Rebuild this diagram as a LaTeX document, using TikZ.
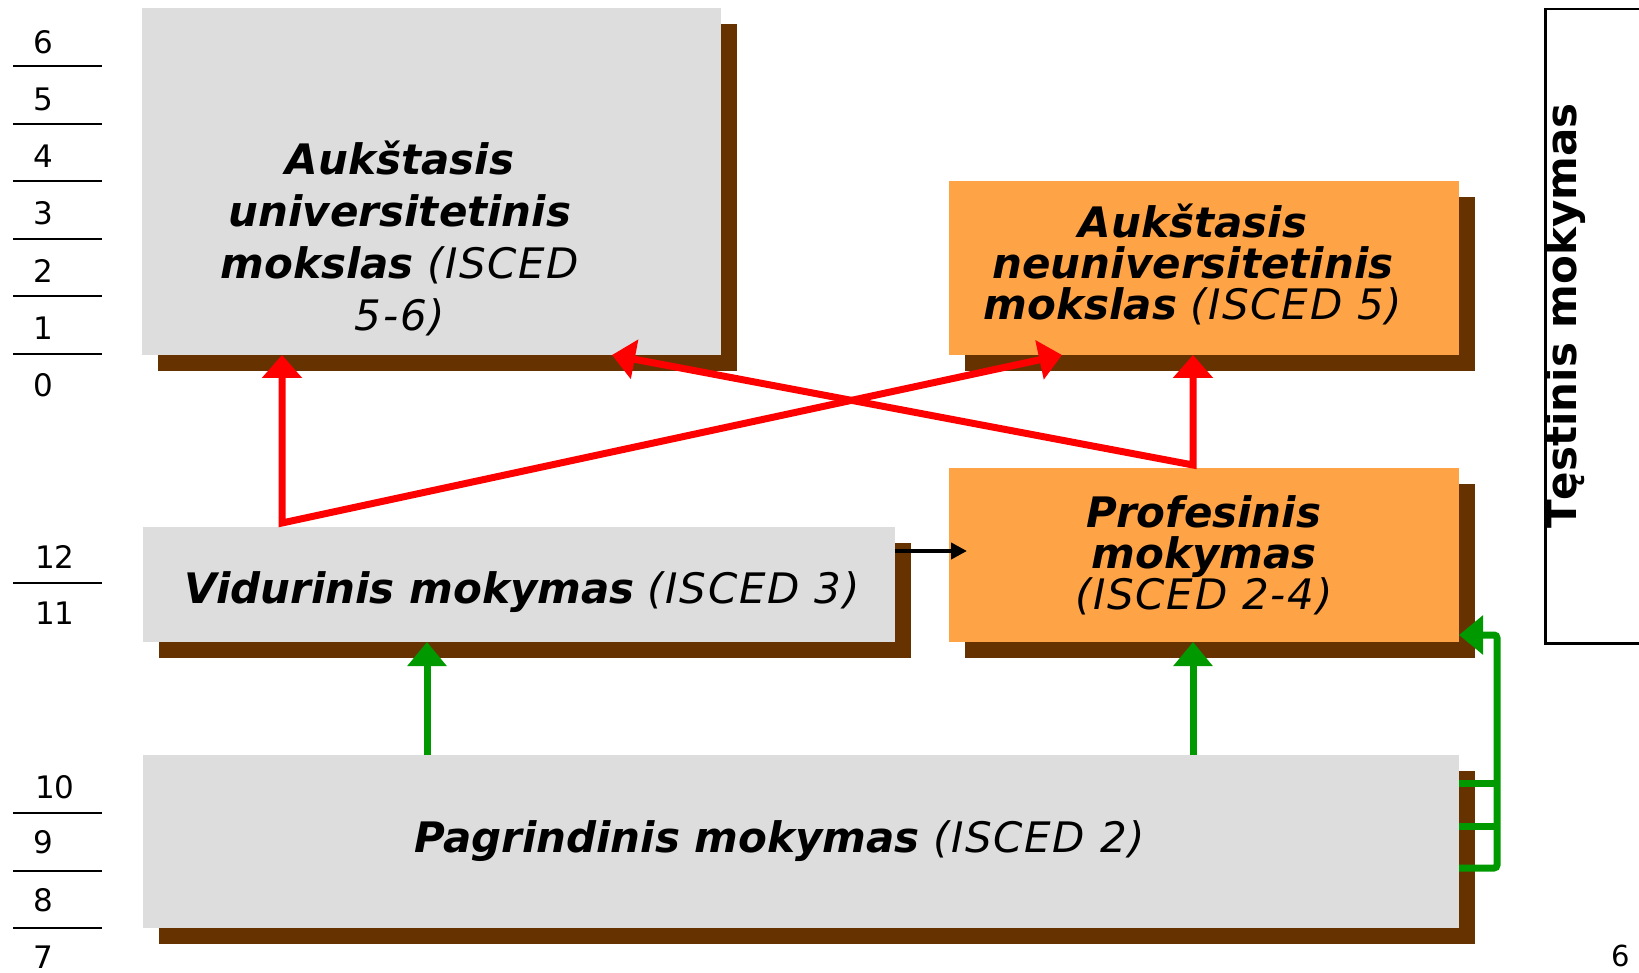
\documentclass[tikz,border=0pt]{standalone}
\usepackage{fontspec}
\setmainfont{DejaVu Sans}
\usepackage{tikz}
\tikzset{>=latex}
\usetikzlibrary{arrows.meta,calc,shadows,positioning}
\definecolor{boxgray}{HTML}{DDDDDD}
\definecolor{boxorange}{HTML}{FFA347}
\definecolor{shadowbrown}{HTML}{663300}
\definecolor{arrowgreen}{HTML}{009900}
\newcommand{\isced}[1]{{\addfontfeatures{LetterSpace=4}#1}}
\tikzset{
    levelbox/.style={inner sep=0pt, outer sep=0pt, anchor=north west,
        drop shadow={shadow xshift=16pt, shadow yshift=-16pt, fill=shadowbrown, opacity=1}},
    graybox/.style={levelbox, fill=boxgray},
    orangebox/.style={levelbox, fill=boxorange},
    boxtext/.style={inner sep=0pt, align=center, font=\fontsize{42}{52}\selectfont\itshape},
    tighttext/.style={boxtext, font=\fontsize{42}{41}\selectfont\itshape},
    yeartext/.style={inner sep=0pt, anchor=west, font=\fontsize{31}{31}\selectfont},
    redarrows/.style={draw=red, line width=7pt,
        {Triangle[length=23pt,width=39pt]}-{Triangle[length=23pt,width=39pt]}},
    greenline/.style={draw=arrowgreen, line width=7pt},
    greenarrow/.style={greenline, -{Triangle[length=24pt,width=38pt]}},
    blackarrow/.style={draw=black, line width=4.5pt, -{Triangle[length=16pt,width=16pt]}}
}

\begin{document}
\begin{tikzpicture}[x=1pt, y=-1pt]
            \useasboundingbox (0,0) rectangle (1639,973);

            \foreach \i in {0,...,6}
            {
            \pgfmathtruncatemacro{\yr}{6-\i}
            \node (yr\yr) [yeartext] at (33, 42+57.2*\i) {\yr};
            }
            \foreach \i in {0,...,5}
            \draw[line width=2pt] (13, 66+57.6*\i) -- (102, 66+57.6*\i);

            \node (yr12) [yeartext] at (35,557) {12};
            \node (yr11) [yeartext] at (35,613) {11};
            \draw[line width=2pt] (13,583) -- (102,583);

            \node (yr10) [yeartext] at (35,787) {10};
            \foreach \yr/\y in {9/842, 8/900, 7/957}
            \node (yr\yr) [yeartext] at (33,\y) {\yr};
            \foreach \y in {813, 871, 928}
            \draw[line width=2pt] (13,\y) -- (102,\y);

            \node (uni) [graybox, minimum width=579pt, minimum height=347pt] at (142,8) {};
            \node (neu) [orangebox, minimum width=510pt, minimum height=174pt] at (949,181) {};
            \node (vid) [graybox, minimum width=752pt, minimum height=115pt] at (143,527) {};
            \node (prof) [orangebox, minimum width=510pt, minimum height=174pt] at (949,468) {};
            \node (pag) [graybox, minimum width=1316pt, minimum height=173pt] at (143,755) {};

            \node (unitxt) [boxtext] at (400,238) {\textbf{Aukštasis}\\ \textbf{universitetinis}\\ \textbf{mokslas} \isced{(ISCED}\\ \isced{5-6)}};
            \node (neutxt) [tighttext] at (1193,264) {\textbf{Aukštasis}\\ \textbf{neuniversitetinis}\\ \textbf{mokslas} \isced{(ISCED 5)}};
            \node (proftxt) [tighttext] at (1204,555) {\textbf{Profesinis}\\ \textbf{mokymas}\\ \isced{(ISCED 2-4)}};
            \node (vidtxt) [boxtext] at (522,592) {\textbf{Vidurinis mokymas} \isced{(ISCED 3)}};
            \node (pagtxt) [boxtext] at (780,841) {\textbf{Pagrindinis mokymas} \isced{(ISCED 2)}};

            \node (cont) [draw, line width=2.5pt, inner sep=0pt, anchor=north west,
                minimum width=150pt, minimum height=634pt] at (1544,8) {};
            \node (conttxt) [rotate=90, inner sep=0pt, font=\fontsize{42}{42}\selectfont\bfseries]
                at (1565,316) {Tęstinis mokymas};
            \node (pageno) [anchor=base, inner sep=0pt, font=\fontsize{29}{29}\selectfont] at (1621,966) {6};

            \coordinate (leftcol) at (282,0);
            \coordinate (midcol) at (427,0);
            \coordinate (rightcol) at (1193,0);
            \coordinate (unihit) at (612,0);
            \coordinate (neuhit) at (1062,0);
            \coordinate (proftip) at ($(prof.north west)+(18,83)$);

            \draw[redarrows] (leftcol |- uni.south) -- ($(leftcol |- vid.north)+(0,-4)$) -- (neuhit |- neu.south);
            \draw[redarrows] (rightcol |- neu.south) -- ($(rightcol |- prof.north)+(0,-3)$) -- (unihit |- uni.south);

            \draw[greenarrow] (midcol |- pag.north) -- (midcol |- vid.south);
            \draw[greenarrow] (rightcol |- pag.north) -- (rightcol |- prof.south);
            \draw[greenline] ([yshift=-28pt]pag.north east) -- ++(38,0);
            \draw[greenline] ([yshift=-71pt]pag.north east) -- ++(38,0);
            \draw[greenarrow, rounded corners=3pt] ([yshift=-113pt]pag.north east) -- ++(38,0)
                |- ([yshift=7pt]prof.south east);

            \draw[blackarrow] (vid.east |- proftip) -- (proftip);
\end{tikzpicture}
\end{document}
